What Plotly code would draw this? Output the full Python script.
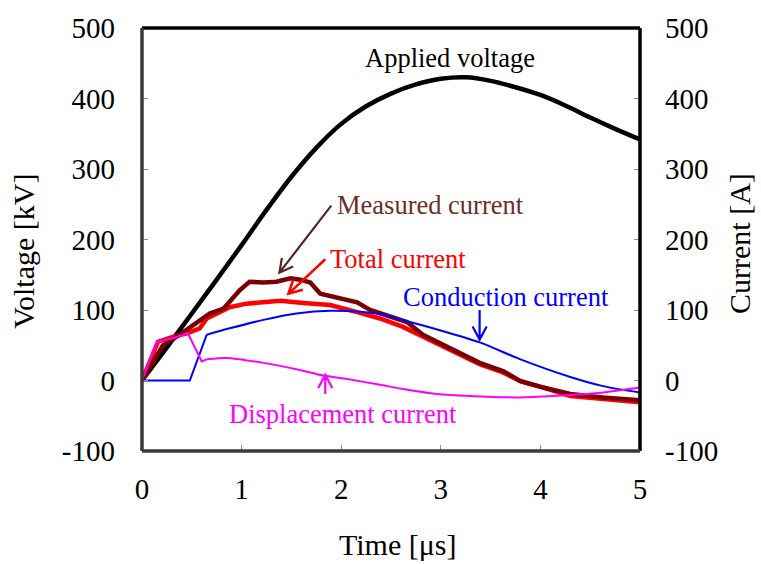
import math
import plotly.graph_objects as go

# ---------------- data ----------------
t_volt = [0, 0.25, 0.5, 0.75, 1.0, 1.25, 1.5, 1.75, 2.0, 2.25, 2.5, 2.75, 3.0, 3.25, 3.5, 3.75, 4.0, 4.25, 4.5, 4.75, 5.0]
v_applied = [0, 47, 95, 143, 192, 242, 289, 330, 364, 389, 407, 420, 428, 430, 425, 416, 405, 390, 373, 357, 342]

t_meas = [0, 0.21, 0.38, 0.55, 0.68, 0.82, 0.88, 0.98, 1.08, 1.22, 1.35, 1.49, 1.59, 1.69, 1.79, 1.95, 2.16,
          2.29, 2.39, 2.66, 2.82, 3.16, 3.39, 3.63, 3.80, 4.03, 4.30, 4.63, 5.0]
i_meas = [0, 50, 65, 83, 95, 102, 111, 128, 140, 139, 140, 145, 143, 139, 123, 118, 111,
          100, 95, 83, 65, 41, 25, 13, -1, -10, -19, -24, -28]

t_total = [0, 0.16, 0.31, 0.45, 0.58, 0.65, 0.78, 0.88, 1.05, 1.39, 1.62, 1.89, 2.16, 2.39, 2.62, 2.82,
           3.16, 3.39, 3.63, 3.80, 4.03, 4.30, 5.0]
i_total = [0, 55, 62, 67, 74, 88, 97, 104, 109, 113, 110, 107, 97, 88, 76, 62,
           39, 23, 11, -1, -10, -22, -31]

t_cond = [0, 0.48, 0.65, 0.88, 1.22, 1.55, 1.89, 2.22, 2.39, 2.69, 3.0, 3.39, 3.80, 4.30, 4.63, 5.0]
i_cond = [0, 0, 65, 74, 86, 95, 99, 97, 94, 83, 71, 54, 30, 5, -8, -17]

t_disp = [0, 0.15, 0.31, 0.46, 0.60, 0.65, 0.85, 1.22, 1.55, 1.82, 2.06, 2.39, 2.62, 2.96, 3.29, 3.80, 4.13, 4.63, 5.0]
i_disp = [0, 55, 60, 67, 27, 30, 32, 25, 16, 7, 2, -6, -12, -19, -22, -24, -22, -17, -10]

x_ticks = [0, 1, 2, 3, 4, 5]
y_ticks = [-100, 0, 100, 200, 300, 400, 500]
y_tick_text = ["-100", "0", "100", "200", "300", "400", "500"]

# ---------------- layout constants ----------------
W, H = 761, 564
ML, MR, MT, MB = 142, 121, 22, 113
PW, PH = W - ML - MR, H - MT - MB
XR = [0, 5]
YR = [-100, 500]
PXX = PW / (XR[1] - XR[0])
PXY = PH / (YR[1] - YR[0])
FONT = "Liberation Serif, Times New Roman, serif"


def px_to_paper(px, py):
    return (px - ML) / PW, (H - MB - py) / PH


fig = go.Figure()
fig.add_trace(go.Scatter(x=t_volt, y=v_applied, mode="lines",
                         line=dict(color="black", width=4.5, shape="spline", smoothing=1.0),
                         name="Applied voltage", yaxis="y"))
fig.add_trace(go.Scatter(x=t_total, y=i_total, mode="lines", line=dict(color="#ff0000", width=4.5),
                         name="Total current", yaxis="y2"))
fig.add_trace(go.Scatter(x=t_meas, y=i_meas, mode="lines", line=dict(color="#7a0000", width=4.5),
                         name="Measured current", yaxis="y2"))
fig.add_trace(go.Scatter(x=t_cond[:3], y=i_cond[:3], mode="lines", line=dict(color="#0000ff", width=2),
                         name="Conduction current", yaxis="y2", showlegend=False))
fig.add_trace(go.Scatter(x=t_cond[2:], y=i_cond[2:], mode="lines",
                         line=dict(color="#0000ff", width=2, shape="spline", smoothing=0.8),
                         name="Conduction current", yaxis="y2"))
fig.add_trace(go.Scatter(x=t_disp[:6], y=i_disp[:6], mode="lines", line=dict(color="#ff00ff", width=2),
                         name="Displacement current", yaxis="y2", showlegend=False))
fig.add_trace(go.Scatter(x=t_disp[5:], y=i_disp[5:], mode="lines",
                         line=dict(color="#ff00ff", width=2, shape="spline", smoothing=0.6),
                         name="Displacement current", yaxis="y2"))

shapes = []


def arrow(tail, head, color, width, size=15, ang=28):
    dx = (head[0] - tail[0]) * PXX
    dy = (head[1] - tail[1]) * PXY
    L = math.hypot(dx, dy)
    bx, by = -dx / L, -dy / L
    pts = []
    for a in (ang, -ang):
        r = math.radians(a)
        rx = bx * math.cos(r) - by * math.sin(r)
        ry = bx * math.sin(r) + by * math.cos(r)
        pts.append((head[0] + rx * size / PXX, head[1] + ry * size / PXY))
    path = (f"M {tail[0]},{tail[1]} L {head[0]},{head[1]} "
            f"M {pts[0][0]},{pts[0][1]} L {head[0]},{head[1]} L {pts[1][0]},{pts[1][1]}")
    shapes.append(dict(type="path", path=path, xref="x", yref="y",
                       line=dict(color=color, width=width)))


arrow((1.90, 248), (1.38, 153), "#542626", 2.2)
arrow((1.84, 172), (1.47, 123), "#ff0000", 2.5)
arrow((3.39, 100), (3.39, 58), "#0000ff", 2.2)
arrow((1.84, -19), (1.84, 8), "#ff00ff", 2.2)

# frame
shapes.append(dict(type="line", xref="paper", yref="paper", x0=0, x1=1, y0=1, y1=1,
                   line=dict(color="black", width=3.5), layer="above"))
shapes.append(dict(type="line", xref="paper", yref="paper", x0=1, x1=1, y0=0, y1=1,
                   line=dict(color="black", width=3.5), layer="above"))
shapes.append(dict(type="line", xref="paper", yref="paper", x0=0, x1=0, y0=0, y1=1,
                   line=dict(color="#3a3a3a", width=3.5), layer="above"))
shapes.append(dict(type="line", xref="paper", yref="paper", x0=0, x1=1, y0=0, y1=0,
                   line=dict(color="#3a3a3a", width=3.5), layer="above"))

ann = []


def label(text, x, y, color, size=26.5):
    ann.append(dict(text=text, x=x, y=y, xref="x", yref="y", showarrow=False,
                    font=dict(family=FONT, size=size, color=color), xanchor="center", yanchor="middle"))


label("Applied voltage", 3.09, 458, "black")
label("Measured current", 2.90, 249, "#6e2c2c")
label("Total current", 2.57, 172, "#ff0000")
label("Conduction current", 3.65, 118, "#0000ff")
label("Displacement current", 2.02, -47, "#ff00ff")


def title(text, px, py, angle=0):
    x, y = px_to_paper(px, py)
    ann.append(dict(text=text, x=x, y=y, xref="paper", yref="paper", showarrow=False, textangle=angle,
                    font=dict(family=FONT, size=30, color="black"), xanchor="center", yanchor="middle"))


title("Voltage [kV]", 24, 249, -90)
title("Current [A]", 740, 241, -90)
title("Time [μs]", 398, 546)

axis_common = dict(ticks="inside", ticklen=6, tickcolor="#8a8a8a", tickwidth=1, showgrid=False,
                   zeroline=False, showline=False, tickfont=dict(family=FONT, size=29, color="black"))

fig.update_layout(
    width=W, height=H,
    margin=dict(l=ML, r=MR, t=MT, b=MB, pad=0),
    paper_bgcolor="white", plot_bgcolor="white",
    showlegend=False,
    xaxis=dict(range=XR, tickvals=x_ticks, ticklabelstandoff=18, **axis_common),
    yaxis=dict(range=YR, tickvals=y_ticks, ticktext=y_tick_text, ticklabelstandoff=26, **axis_common),
    yaxis2=dict(range=YR, tickvals=y_ticks, ticktext=y_tick_text, overlaying="y", side="right",
                ticklabelstandoff=24, **axis_common),
    shapes=shapes,
    annotations=ann,
)

fig.write_html("out.html")
